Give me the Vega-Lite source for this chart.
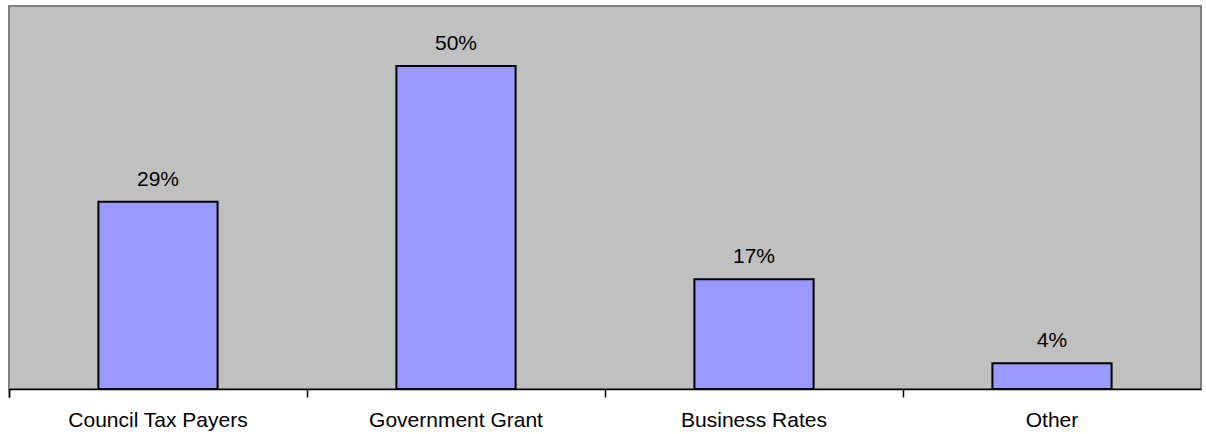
{
  "$schema": "https://vega.github.io/schema/vega-lite/v6.json",
  "autosize": {"type": "none"},
  "padding": {"left": 9, "top": 6, "right": 5, "bottom": 45},
  "width": 1192,
  "height": 383,
  "background": "white",
  "config": {
    "view": {"stroke": "#808080", "strokeWidth": 2, "fill": "#C0C0C0"},
    "font": "Liberation Sans"
  },
  "data": {
    "values": [
      {"source": "Council Tax Payers", "share": 0.29},
      {"source": "Government Grant", "share": 0.50},
      {"source": "Business Rates", "share": 0.17},
      {"source": "Other", "share": 0.04}
    ]
  },
  "encoding": {
    "x": {
      "field": "source",
      "type": "nominal",
      "sort": null,
      "scale": {"paddingInner": 0, "paddingOuter": 0},
      "axis": {
        "title": null,
        "labelAngle": 0,
        "labelFont": "Liberation Sans",
        "labelFontSize": 21,
        "labelColor": "black",
        "labelPadding": 12,
        "domainColor": "black",
        "domainWidth": 1.5,
        "tickColor": "black",
        "tickWidth": 1.5,
        "tickSize": 8,
        "bandPosition": 0,
        "tickExtra": true
      }
    },
    "y": {
      "field": "share",
      "type": "quantitative",
      "scale": {"domain": [0, 0.593], "nice": false, "zero": true},
      "axis": null
    }
  },
  "layer": [
    {
      "mark": {"type": "bar", "width": {"band": 0.4}, "fill": "#9999FF", "stroke": "black", "strokeWidth": 2}
    },
    {
      "mark": {"type": "text", "baseline": "alphabetic", "align": "center", "dy": -16, "fontSize": 21, "color": "black", "font": "Liberation Sans"},
      "encoding": {
        "text": {"field": "share", "type": "quantitative", "format": ".0%"}
      }
    }
  ]
}
